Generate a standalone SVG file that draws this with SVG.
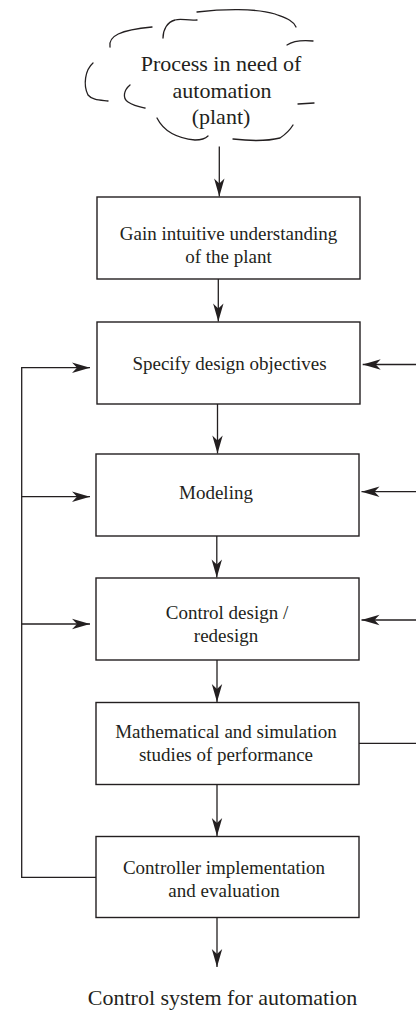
<svg xmlns="http://www.w3.org/2000/svg" width="416" height="1012" viewBox="0 0 416 1012">
  <style>
    .box { fill: #ffffff; stroke: #231f20; stroke-width: 1.4; }
    .lbl { font-family: "Liberation Serif", "Times New Roman", serif; font-size: 19px; fill: #231f20; text-anchor: middle; }
    .big { font-family: "Liberation Serif", "Times New Roman", serif; font-size: 22px; fill: #231f20; text-anchor: middle; }
    .wire { fill: none; stroke: #231f20; stroke-width: 1.3; }
    .cloud { fill: none; stroke: #231f20; stroke-width: 1.3; stroke-linecap: round; }
  </style>
  <defs>
    <marker id="arrow" viewBox="-19 -6 20 12" refX="0" refY="0" markerWidth="20" markerHeight="12" markerUnits="userSpaceOnUse" orient="auto">
      <path d="M0,0 L-18,-5.2 L-13,0 L-18,5.2 Z" fill="#231f20"/>
    </marker>
  </defs>
  <rect width="416" height="1012" fill="#ffffff"/>

  <!-- plant cloud -->
  <g id="plant">
    <path class="cloud" d="M110,47 C108,36 120,30 152,27"/>
    <path class="cloud" d="M163,38 C163,30 167,22 175,20 C182,18 187,21 197,20"/>
    <path class="cloud" d="M197,12 C222,9 256,8 275,14 C285,18 293,20 296,27"/>
    <path class="cloud" d="M287,45 C293,41 302,40 313,41"/>
    <path class="cloud" d="M93,63 C85,70 83,85 88,95 C92,100 100,100 108,101"/>
    <path class="cloud" d="M130,85 C124,90 122,98 128,102 C134,106 140,107 145,108"/>
    <path class="cloud" d="M157,118 C163,130 175,138 195,140 C200,140 205,139 208,136"/>
    <path class="cloud" d="M233,139 C250,141 268,141 280,138 C286,134 290,130 293,125"/>
    <path class="cloud" d="M298,104 L314,103"/>
    <text class="big" x="221" y="71">Process in need of</text>
    <text class="big" x="222" y="97.5">automation</text>
    <text class="big" x="221" y="124">(plant)</text>
  </g>

  <g id="understand">
    <rect class="box" x="97" y="197" width="263" height="82"/>
    <text class="lbl" x="228.5" y="239.5">Gain intuitive understanding</text>
    <text class="lbl" x="228.5" y="262.5">of the plant</text>
  </g>

  <g id="objectives">
    <rect class="box" x="97" y="322" width="263" height="82"/>
    <text class="lbl" x="229.5" y="369.5">Specify design objectives</text>
  </g>

  <g id="modeling">
    <rect class="box" x="96" y="454" width="263" height="82"/>
    <text class="lbl" x="216" y="499">Modeling</text>
  </g>

  <g id="design">
    <rect class="box" x="96" y="578" width="263" height="82"/>
    <text class="lbl" x="227" y="618.5">Control design /</text>
    <text class="lbl" x="226" y="641.5">redesign</text>
  </g>

  <g id="studies">
    <rect class="box" x="96" y="702.5" width="263" height="82"/>
    <text class="lbl" x="226" y="737.5">Mathematical and simulation</text>
    <text class="lbl" x="226" y="760.5">studies of performance</text>
  </g>

  <g id="implementation">
    <rect class="box" x="96" y="836.5" width="263" height="81"/>
    <text class="lbl" x="224" y="873.5">Controller implementation</text>
    <text class="lbl" x="224" y="896.5">and evaluation</text>
  </g>

  <g id="result">
    <text class="big" x="222.5" y="1004.5">Control system for automation</text>
  </g>

  <!-- connectors -->
  <g id="connectors">
    <!-- main downward flow -->
    <line class="wire" x1="219.3" y1="146.5" x2="219.3" y2="196.5" marker-end="url(#arrow)"/>
    <line class="wire" x1="218.3" y1="279" x2="218.3" y2="321.5" marker-end="url(#arrow)"/>
    <line class="wire" x1="217.5" y1="404" x2="217.5" y2="453.5" marker-end="url(#arrow)"/>
    <line class="wire" x1="216.8" y1="536" x2="216.8" y2="577.5" marker-end="url(#arrow)"/>
    <line class="wire" x1="217" y1="660" x2="217" y2="702" marker-end="url(#arrow)"/>
    <line class="wire" x1="217" y1="784.5" x2="217" y2="836" marker-end="url(#arrow)"/>
    <line class="wire" x1="217" y1="917.5" x2="217" y2="967" marker-end="url(#arrow)"/>

    <!-- left feedback from implementation -->
    <polyline class="wire" points="96,877.3 21.7,877.3 21.7,367.7 90,367.7" marker-end="url(#arrow)"/>
    <line class="wire" x1="21.7" y1="496.7" x2="90" y2="496.7" marker-end="url(#arrow)"/>
    <line class="wire" x1="21.7" y1="624" x2="90" y2="624" marker-end="url(#arrow)"/>

    <!-- right feedback from studies -->
    <line class="wire" x1="359" y1="743.3" x2="417" y2="743.3"/>
    <line class="wire" x1="417" y1="364.5" x2="362.7" y2="364.5" marker-end="url(#arrow)"/>
    <line class="wire" x1="417" y1="491.7" x2="361.5" y2="491.7" marker-end="url(#arrow)"/>
    <line class="wire" x1="417" y1="620" x2="361.5" y2="620" marker-end="url(#arrow)"/>
  </g>
</svg>
